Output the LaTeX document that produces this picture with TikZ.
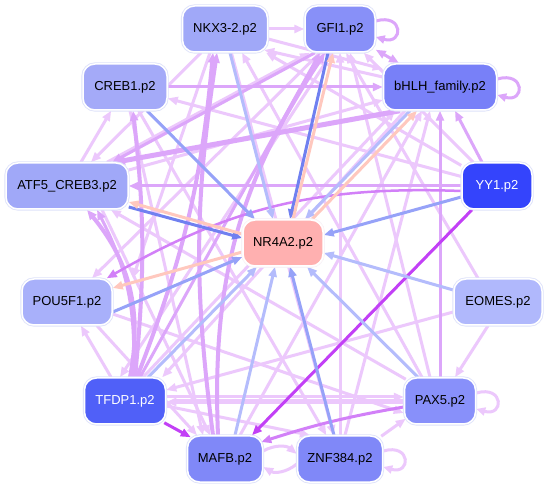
\documentclass[tikz,border=0pt]{standalone}
\usepackage{fontspec}
\setmainfont{Liberation Sans}
\usetikzlibrary{arrows.meta}
\pgfdeclarelayer{bg}
\pgfsetlayers{bg,main}
\definecolor{clp}{RGB}{236,200,252}
\definecolor{cmp}{RGB}{220,166,250}
\definecolor{cdp}{RGB}{210,128,248}
\definecolor{cvp}{RGB}{194,64,246}
\definecolor{clb}{RGB}{180,188,252}
\definecolor{cmb}{RGB}{150,162,248}
\definecolor{cdb}{RGB}{112,128,240}
\definecolor{cpe}{RGB}{255,200,190}
\definecolor{cbord}{RGB}{222,226,250}
\definecolor{fnkx}{RGB}{160,168,248}
\definecolor{fgfi}{RGB}{136,144,248}
\definecolor{fcreb}{RGB}{164,170,248}
\definecolor{fbhlh}{RGB}{120,128,248}
\definecolor{fatf}{RGB}{160,168,248}
\definecolor{fyy}{RGB}{52,68,252}
\definecolor{fnr}{RGB}{255,176,176}
\definecolor{fpou}{RGB}{168,176,250}
\definecolor{feomes}{RGB}{176,184,252}
\definecolor{ftfdp}{RGB}{80,96,248}
\definecolor{fpax}{RGB}{136,144,250}
\definecolor{fmafb}{RGB}{128,136,248}
\definecolor{fznf}{RGB}{128,136,248}
\begin{document}
\begin{tikzpicture}[x=1pt,y=-1pt,
  gnode/.style={rounded corners=12pt, minimum height=46pt, inner sep=0pt,
    font=\fontsize{13}{15}\selectfont, draw=white, line width=1.5pt,
    preaction={draw=cbord, line width=3.2pt}},
  ebase/.style={line width=3pt, -{Triangle[length=10pt,width=8pt]}},
  elp/.style={ebase, draw=clp},
  emp/.style={ebase, draw=cmp},
  edp/.style={ebase, draw=cdp},
  evp/.style={ebase, draw=cvp},
  elb/.style={ebase, draw=clb},
  emb/.style={ebase, draw=cmb},
  edb/.style={ebase, draw=cdb},
  epe/.style={ebase, draw=cpe},
  thk/.style={line width=5pt},
  loopedge/.style={line width=3pt, -{Triangle[length=9pt,width=8pt]}}
]
\useasboundingbox (0,0) rectangle (547,489);
% nodes
\node[gnode, fill=fnkx, minimum width=85pt] (nkx) at (225,29) {NKX3-2.p2};
\node[gnode, fill=fgfi, minimum width=70pt] (gfi) at (340,29) {GFI1.p2};
\node[gnode, fill=fcreb, minimum width=84pt] (creb) at (125,87) {CREB1.p2};
\node[gnode, fill=fbhlh, minimum width=113pt] (bhlh) at (440,87) {bHLH\_family.p2};
\node[gnode, fill=fatf, minimum width=122pt] (atf) at (67,186) {ATF5\_CREB3.p2};
\node[gnode, fill=fyy, minimum width=70pt, text=white] (yy) at (497,186) {YY1.p2};
\node[gnode, fill=fnr, minimum width=80pt, preaction={draw=white!90!fnr, line width=3.2pt}] (nr) at (283,243) {NR4A2.p2};
\node[gnode, fill=fpou, minimum width=90pt] (pou) at (67,302) {POU5F1.p2};
\node[gnode, fill=feomes, minimum width=88pt] (eomes) at (498,302) {EOMES.p2};
\node[gnode, fill=ftfdp, minimum width=81pt, text=white] (tfdp) at (125,401) {TFDP1.p2};
\node[gnode, fill=fpax, minimum width=71pt] (pax) at (440,401) {PAX5.p2};
\node[gnode, fill=fmafb, minimum width=75pt] (mafb) at (225,459) {MAFB.p2};
\node[gnode, fill=fznf, minimum width=85pt] (znf) at (340,459) {ZNF384.p2};

\begin{pgfonlayer}{bg}
\fill[white] (0,0) rectangle (547,489);
% ---- light purple edges
\draw[elp] (nkx) -- (gfi);
\draw[elp] ([yshift=-10pt]nkx.east) -- ([yshift=18pt]bhlh.west);
\draw[elp] ([yshift=10pt]bhlh.west) -- ([xshift=-4pt,yshift=-21pt]nkx.east);
\draw[elp] ([yshift=16pt]atf.east) -- ([yshift=-13pt]bhlh.west);
\draw[elp] ([xshift=40pt]atf.north) -- ([xshift=-30pt]gfi.south);
\draw[elp] (nkx) -- (atf);
\draw[elp] (yy) -- (creb);
\draw[elp] (yy) -- (nkx);
\draw[elp] (yy) -- (gfi);
\draw[elp] (atf) -- (creb);
\draw[elp] (tfdp) -- (pou);
\draw[elp] ([xshift=2pt,yshift=-2pt]pax.north west) -- ([xshift=-18pt]atf.south east);
\draw[elp] ([xshift=-20pt]gfi.south) -- ([xshift=25pt]pou.north);
\draw[elp] ([yshift=-12pt]pou.east) -- ([yshift=-12pt]pax.west);
\draw[elp] ([xshift=-20pt]eomes.north) -- ([xshift=6pt]gfi.south);
\draw[elp] ([xshift=-10pt]eomes.south) -- ([xshift=15pt]pax.north);
\draw[elp] ([yshift=-10pt]eomes.west) -- ([yshift=11pt]tfdp.east);
\draw[elp, thk] ([yshift=-1pt]pax.west) -- ([yshift=-1pt]tfdp.east);
\draw[elp] ([yshift=4pt]tfdp.east) -- ([yshift=4pt]pax.west);
\draw[elp] ([yshift=-5pt]tfdp.east) -- ([xshift=-30pt]znf.north);
\draw[elp] ([yshift=8pt]mafb.east) to[bend left=35] ([yshift=5pt]znf.west);
\draw[elp] ([yshift=-5pt]znf.west) to[bend left=35] ([yshift=-8pt]mafb.east);
\draw[elp] ([xshift=-2pt,yshift=-1pt]znf.north east) -- ([xshift=2pt,yshift=6pt]pax.south west);
\draw[elp] (znf.north) -- (gfi.south);
\draw[elp] ([xshift=5pt]znf.north) -- ([xshift=-10pt]bhlh.south);
\draw[elp] ([xshift=-10pt]pax.north) -- ([xshift=10pt]gfi.south);
\draw[elp] ([xshift=-18pt]pax.north) -- ([xshift=17pt]nkx.south);
\draw[elp] ([xshift=5pt]creb.south) -- ([xshift=-22pt]mafb.north);
\draw[elp] ([xshift=35pt]atf.south) -- ([xshift=-15pt]mafb.north);
\draw[elp] ([xshift=30pt]pou.south) -- ([xshift=-28pt]mafb.north);
\draw[elp] (creb) -- (znf);
\draw[elp] (nkx) -- (znf);
\draw[elp] ([xshift=18pt]tfdp.north) -- ([xshift=-45pt]bhlh.south);
\draw[elp] ([xshift=15pt]mafb.north) -- ([xshift=-18pt]bhlh.south);
\draw[elp] ([xshift=-35pt]bhlh.south) -- ([xshift=-4pt]tfdp.north east);
\draw[elp] ([xshift=-15pt]nkx.south) -- ([xshift=20pt]pou.north east);
\draw[elp] ([xshift=-8pt]gfi.south) -- ([xshift=-5pt]tfdp.north);
% ---- medium / dark purple
\draw[emp] ([xshift=-15pt]yy.north) -- ([xshift=15pt]bhlh.south);
\draw[emp] (yy.west) -- (atf.east);
\draw[emp] (creb.east) -- (bhlh.west);
\draw[emp, {Triangle[length=10pt,width=8pt]}-{Triangle[length=10pt,width=8pt]}] (gfi) -- (bhlh);
\draw[emp] (pax.north) -- (bhlh.south);
\draw[emp, thk] ([xshift=-40pt]bhlh.south) -- ([xshift=48pt]atf.north);
\draw[emp] ([xshift=-25pt]gfi.south) -- ([xshift=45pt]atf.north);
\draw[emp, line width=4pt] ([xshift=5pt]tfdp.north) to[bend right=25] ([xshift=20pt]atf.south);
\draw[emp] ([xshift=8pt]tfdp.north) to[bend right=15] ([xshift=30pt]atf.south);
\draw[emp, line width=4pt] ([xshift=10pt]tfdp.north) to[bend right=6] ([xshift=8pt]creb.south);
\draw[emp, line width=4pt] ([xshift=12pt]tfdp.north) to[bend right=8] ([xshift=-12pt]nkx.south);
\draw[emp] ([xshift=15pt]tfdp.north) -- ([xshift=-20pt]gfi.south);
\draw[emp, line width=4pt] ([xshift=-7pt]mafb.north) to[bend left=18] ([xshift=-15pt]gfi.south);
\draw[emp, line width=4pt] ([xshift=-12pt]mafb.north) to[bend left=8] ([xshift=-8pt]nkx.south);
\draw[edp, line width=2.5pt] ([yshift=-5pt]yy.west) to[bend right=16] ([xshift=-6pt]pou.north east);
\draw[edp] ([yshift=-6pt]pax.west) to[bend right=4] ([xshift=-2pt,yshift=17pt]mafb.east);
\draw[evp] ([xshift=-25pt]yy.south) -- ([xshift=27pt]mafb.north);
\draw[evp] ([xshift=-2pt,yshift=2pt]tfdp.south east) -- ([xshift=4pt,yshift=-2pt]mafb.north west);
% ---- self loops
\draw[loopedge, draw=cmp] ([yshift=8pt]gfi.east) .. controls +(28pt,8pt) and +(28pt,-8pt) .. ([yshift=-8pt]gfi.east);
\draw[loopedge, draw=cmp] ([yshift=8pt]bhlh.east) .. controls +(28pt,8pt) and +(28pt,-8pt) .. ([yshift=-8pt]bhlh.east);
\draw[loopedge, draw=clp] ([yshift=8pt]pax.east) .. controls +(28pt,8pt) and +(28pt,-8pt) .. ([yshift=-8pt]pax.east);
\draw[loopedge, draw=clp] ([yshift=8pt]znf.east) .. controls +(28pt,8pt) and +(28pt,-8pt) .. ([yshift=-8pt]znf.east);
% ---- blue / peach edges to NR4A2
\draw[emb] ([xshift=22pt]creb.south) -- ([xshift=-28pt]nr.north);
\draw[elb] ([xshift=5pt]nkx.south) -- ([xshift=-10pt]nr.north);
\draw[edb] ([xshift=-12pt]gfi.south) -- ([xshift=7pt]nr.north);
\draw[epe] ([xshift=10pt]nr.north) -- ([xshift=-7pt]gfi.south);
\draw[elb] ([xshift=-30pt]bhlh.south) -- ([xshift=22pt]nr.north);
\draw[epe] ([xshift=29pt]nr.north) -- ([xshift=-23pt]bhlh.south);
\draw[emb] ([yshift=-11pt]yy.west) -- ([yshift=8pt]nr.east);
\draw[edb] ([yshift=-21pt]atf.east) -- ([yshift=5pt]nr.west);
\draw[epe] ([yshift=9pt]nr.west) -- ([yshift=-16pt]atf.east);
\draw[emb] ([yshift=-10pt]pou.east) -- ([yshift=-14pt]nr.west);
\draw[epe] ([yshift=-9pt]nr.west) -- ([yshift=14pt]pou.east);
\draw[elb] ([yshift=12pt]eomes.west) -- ([yshift=-10pt]nr.east);
\draw[elb] ([xshift=23pt]tfdp.north) -- ([xshift=-26pt]nr.south);
\draw[elb] ([xshift=10pt]mafb.north) -- ([xshift=-8pt]nr.south);
\draw[emb] ([xshift=-6pt]znf.north) -- ([xshift=7pt]nr.south);
\draw[elb] ([xshift=-22pt]pax.north) -- ([xshift=24pt]nr.south);
\end{pgfonlayer}
\end{tikzpicture}
\end{document}
